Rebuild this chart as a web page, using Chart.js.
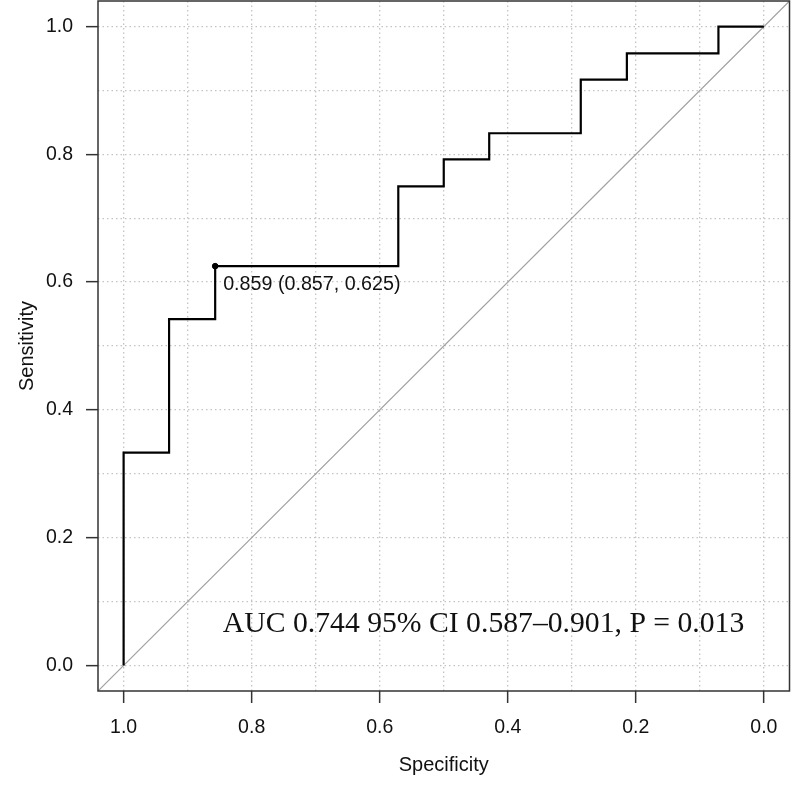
<!DOCTYPE html>
<html>
<head>
<meta charset="utf-8">
<script src="https://cdn.jsdelivr.net/npm/chart.js@4"></script>
<style>
    html, body { margin: 0; padding: 0; background: #fff; }
    canvas { display: block; }
</style>
</head>
<body>
<canvas id="rocChart" width="791" height="790"></canvas>
<script>
// ROC curve coordinates (corners included)
const specificity = [1, 1, 0.929, 0.929, 0.857, 0.857, 0.571, 0.571, 0.5, 0.5, 0.429, 0.429, 0.286, 0.286, 0.214, 0.214, 0.071, 0.071, 0];
const sensitivity = [0, 0.333, 0.333, 0.542, 0.542, 0.625, 0.625, 0.75, 0.75, 0.792, 0.792, 0.833, 0.833, 0.917, 0.917, 0.958, 0.958, 1, 1];

// best threshold
const thresholdValue = 0.859;
const thresholdSpecificity = 0.857;
const thresholdSensitivity = 0.625;

// chance line, across the whole plot region
const chanceX = [1.04, -0.04];
const chanceY = [-0.04, 1.04];

const gridValues = [0, 0.1, 0.2, 0.3, 0.4, 0.5, 0.6, 0.7, 0.8, 0.9, 1];
const tickValues = [0, 0.2, 0.4, 0.6, 0.8, 1];

const aucText = 'AUC 0.744 95% CI 0.587\u20130.901, P = 0.013';
const aucTextX = 0.845;
const aucTextY = 0.053;

const sansFont = '"Liberation Sans", Arial, sans-serif';
const serifFont = '"Liberation Serif", "Times New Roman", serif';
const axisColor = '#333';

function toPoints(xs, ys) {
    return xs.map((x, i) => ({ x: x, y: ys[i] }));
}

function axisOptions(title, isX) {
    return {
        type: 'linear',
        reverse: isX,
        min: -0.04,
        max: 1.04,
        afterBuildTicks: scale => {
            scale.ticks = gridValues.map(v => ({ value: v }));
        },
        afterFit: scale => {
            if (isX) scale.height = 99;
            else scale.width = 98;
            // no extra room for the end labels
            scale.paddingTop = 0;
            scale.paddingBottom = 0;
            scale.paddingLeft = 0;
            scale.paddingRight = 0;
        },
        ticks: {
            autoSkip: false,
            maxRotation: 0,
            padding: 13,
            color: '#111',
            font: { family: sansFont, size: 19.5 },
            callback: v => tickValues.includes(v) ? v.toFixed(1) : ''
        },
        grid: {
            color: '#c4c4c4',
            lineWidth: 1.3,
            drawTicks: true,
            tickLength: 12,
            tickWidth: 1.5,
            tickColor: ctx => tickValues.includes(ctx.tick.value) ? axisColor : 'rgba(0,0,0,0)'
        },
        border: { display: false, dash: [1.5, 3] },
        title: {
            display: true,
            text: title,
            color: '#111',
            font: { family: sansFont, size: 20 },
            padding: isX ? { top: 0, bottom: 13 } : { top: 15, bottom: 0 }
        }
    };
}

// frame + text annotations
const annotationsPlugin = {
    id: 'rocAnnotations',
    afterDatasetsDraw(chart) {
        const { ctx, chartArea: a, scales } = chart;
        ctx.save();
        ctx.strokeStyle = axisColor;
        ctx.lineWidth = 1.5;
        ctx.strokeRect(a.left, a.top, a.right - a.left, a.bottom - a.top);

        ctx.fillStyle = '#111';
        ctx.textBaseline = 'alphabetic';
        ctx.textAlign = 'left';

        const px = scales.x.getPixelForValue(thresholdSpecificity);
        const py = scales.y.getPixelForValue(thresholdSensitivity);
        ctx.font = '19.7px ' + sansFont;
        const label = `${thresholdValue.toFixed(3)} (${thresholdSpecificity.toFixed(3)}, ${thresholdSensitivity.toFixed(3)})`;
        ctx.fillText(label, px + 8, py + 24);

        ctx.font = '29.7px ' + serifFont;
        ctx.fillText(aucText, scales.x.getPixelForValue(aucTextX), scales.y.getPixelForValue(aucTextY));
        ctx.restore();
    }
};

new Chart(document.getElementById('rocChart').getContext('2d'), {
    type: 'scatter',
    data: {
        datasets: [
            {
                label: 'threshold',
                data: [{ x: thresholdSpecificity, y: thresholdSensitivity }],
                pointRadius: 2.8,
                pointBackgroundColor: '#000',
                pointBorderColor: '#000',
                showLine: false
            },
            {
                label: 'ROC',
                data: toPoints(specificity, sensitivity),
                showLine: true,
                borderColor: '#000',
                borderWidth: 2.2,
                pointRadius: 0,
                tension: 0
            },
            {
                label: 'chance',
                data: toPoints(chanceX, chanceY),
                showLine: true,
                borderColor: '#a0a0a0',
                borderWidth: 1.2,
                pointRadius: 0
            }
        ]
    },
    options: {
        responsive: false,
        animation: false,
        layout: { autoPadding: false, padding: { top: 1, right: 1.5, left: 0, bottom: 0 } },
        plugins: {
            legend: { display: false },
            tooltip: { enabled: false }
        },
        scales: {
            x: axisOptions('Specificity', true),
            y: axisOptions('Sensitivity', false)
        }
    },
    plugins: [annotationsPlugin]
});
</script>
</body>
</html>
